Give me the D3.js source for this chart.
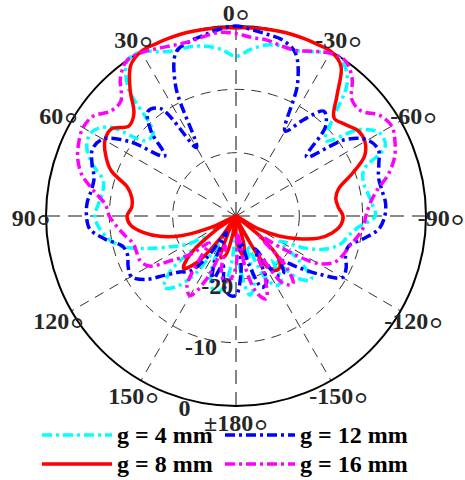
<!DOCTYPE html>
<html><head><meta charset="utf-8">
<script src="https://cdn.jsdelivr.net/npm/d3@7"></script>
<style>html,body{margin:0;padding:0;background:#fff;}svg{display:block;}</style>
</head><body>
<svg id="chart" width="465" height="480"></svg>
<script>
// angles in degrees (positive = counter-clockwise from top), -180..175 step 5
const angles = [-180,-175,-170,-165,-160,-155,-150,-145,-140,-135,-130,-125,-120,-115,-110,-105,-100,-95,-90,-85,-80,-75,-70,-65,-60,-55,-50,-45,-40,-35,-30,-25,-20,-15,-10,-5,0,5,10,15,20,25,30,35,40,45,50,55,60,65,70,75,80,85,90,95,100,105,110,115,120,125,130,135,140,145,150,155,160,165,170,175];

const g4 = [-28,-21,-17.3,-19,-25,-19.5,-17.3,-17.5,-21,-16,-14.4,-18,-22,-18,-14.8,-12.9,-12,-10.5,-8,-8.4,-8.9,-9.2,-8.5,-4,-3.8,-6.2,-11.5,-8.5,-2.7,-0.5,-0.3,-1.4,-2.2,-2.2,-2.6,-3.6,-4.8,-3.6,-2.8,-2.3,-2.2,-1.4,0,-0.1,-3.5,-11.5,-11.5,-5.5,-3.6,-4,-5.8,-8.3,-8.6,-8.2,-7.7,-8.3,-9.5,-11.4,-15,-18.5,-21,-24,-16.5,-14,-15.5,-19,-25,-21,-18.5,-17.5,-18.5,-23];

const g8 = [-27,-25,-23.7,-25,-29,-28,-22,-19.5,-19.3,-20.5,-25,-30,-26,-22.5,-19.5,-16.5,-14.6,-13.4,-13.1,-13.8,-14,-13.2,-10.5,-7.6,-6.5,-6.5,-7.5,-8.1,-5.2,-1.1,0,0,0,0,-0.1,-0.2,-0.3,-0.2,-0.1,0,0,0,0,-1.0,-4.0,-7.2,-7.9,-6.0,-6.1,-7.3,-9.0,-12.2,-13.3,-13.5,-12.8,-13.3,-15.1,-17.6,-21,-26,-30,-26,-20.5,-18.3,-20.5,-26,-30,-27,-23,-23.5,-27,-30];

const g12 = [-17.5,-21,-26,-22,-18,-18.5,-24,-18.5,-18.3,-20,-17.5,-14,-10.6,-10.8,-11.6,-11.6,-9.5,-7.3,-6.5,-6.3,-6.6,-6.7,-6,-5.2,-6,-9,-15.5,-10,-8.4,-11.5,-14.5,-7,-2.6,-1.3,-0.9,-0.5,0,-0.4,-1,-1.5,-2.4,-7.5,-17.5,-9.3,-8.4,-11,-15.3,-9.5,-5.7,-5,-5.8,-6.8,-6.8,-6.4,-6.4,-6.8,-9,-11.5,-11.8,-11.2,-10.9,-12.5,-15.5,-17.5,-18.6,-22,-27,-22,-19,-22,-19,-17.5];

const g16 = [-22,-27,-22,-17.5,-16.1,-19,-23,-17,-16,-19,-25,-21,-15,-12.8,-12,-11.5,-10.6,-9.8,-9.5,-8.8,-7.5,-5.2,-3.4,-2.3,-1.6,-2.3,-4.2,-4.1,-1.5,0,-0.3,-1.3,-2.2,-2.2,-1.8,-1.7,-1.2,-0.9,-1.2,-1.5,-1.3,-0.8,-0.2,0,-1.6,-4.3,-4.2,-2.5,-2.1,-2.6,-3.4,-4.8,-7.2,-9.3,-10,-11.1,-12.2,-13.2,-13.3,-13.3,-14.2,-17.9,-20.5,-24,-21,-16.5,-15.5,-19,-25,-21,-19.5,-20];

const seriesNames = ["g = 4 mm","g = 8 mm","g = 12 mm","g = 16 mm"];
const seriesColors = ["#00FFFF","#FF0000","#0000FF","#FF00FF"];
const seriesDash = ["10,4,3,4",null,"10,4,3,4","10,4,3,4"];
const seriesData = [g4, g8, g12, g16];

const angleTicks = [0,30,60,90,120,150,180,-150,-120,-90,-60,-30];
const angleLabels = ["0","30","60","90","120","150","\u00B1180","-150","-120","-90","-60","-30"];
const radialTicks = [-20,-10,0];
const radialLabels = ["-20","-10","0"];

const svg = d3.select("#chart");
const cx = 236, cy = 216, R = 190;
const r = d3.scaleLinear().domain([-30,0]).range([0,R]).clamp(true);
const toRad = d => -d*Math.PI/180; // d3 angle: clockwise from top
const g = svg.append("g").attr("transform",`translate(${cx},${cy})`);
const font = "'Liberation Serif','Times New Roman',serif";

// grid rings
g.selectAll(".ring").data([-20,-10]).enter().append("circle")
  .attr("r", d=>r(d)).attr("fill","none").attr("stroke","#333").attr("stroke-width",1)
  .attr("stroke-dasharray","10,7");
// spokes
g.selectAll(".spoke").data(angleTicks).enter().append("line")
  .attr("x1",0).attr("y1",0)
  .attr("x2", d=>R*Math.sin(toRad(d))).attr("y2", d=>-R*Math.cos(toRad(d)))
  .attr("stroke", d=> (d%90===0)?"#666":"#333")
  .attr("stroke-width", d=> (d%90===0)?1.6:1)
  .attr("stroke-dasharray", d=> (d%90===0)?"14,8":"10,7");
// outer circle
g.append("circle").attr("r",R).attr("fill","none").attr("stroke","#000").attr("stroke-width",2);

// series
const line = d3.lineRadial().angle((d,i)=>toRad(angles[i])).radius(d=>r(d)).curve(d3.curveCatmullRomClosed.alpha(0.5));
seriesData.forEach((vals,k)=>{
  g.append("path").datum(vals).attr("d",line)
    .attr("fill","none").attr("stroke",seriesColors[k]).attr("stroke-width",3.5)
    .attr("stroke-dasharray",seriesDash[k]).attr("stroke-linejoin","round");
});

// angle labels
angleTicks.forEach((a,i)=>{
  const rr = 205;
  const x = rr*Math.sin(toRad(a)), y = -rr*Math.cos(toRad(a)) + 2;
  const t = g.append("text").attr("x",x).attr("y",y).attr("text-anchor","middle")
    .attr("dominant-baseline","central").attr("font-family",font).attr("font-size",24)
    .attr("font-weight","bold").attr("fill","#262626");
  t.append("tspan").text(angleLabels[i]);
  t.append("tspan").attr("font-weight","normal").attr("font-size",34).attr("dx",1).attr("dy",7).text("\u00B0");
});
// radial labels along 165 deg
radialTicks.forEach((v,i)=>{
  const rr = r(v)+9;
  const x = rr*Math.sin(toRad(165)), y = -rr*Math.cos(toRad(165));
  g.append("text").attr("x",x).attr("y",y).attr("text-anchor","middle")
    .attr("dominant-baseline","central").attr("font-family",font).attr("font-size",24)
    .attr("font-weight","bold").attr("fill","#262626").text(radialLabels[i]);
});

// legend: column-major
const legPos = [[42,435],[42,464],[225,435],[225,464]];
seriesNames.forEach((name,k)=>{
  const [lx,ly] = legPos[k];
  svg.append("line").attr("x1",lx).attr("x2",lx+70).attr("y1",ly).attr("y2",ly)
    .attr("stroke",seriesColors[k]).attr("stroke-width",3.5).attr("stroke-dasharray",seriesDash[k]);
  svg.append("text").attr("x",lx+75).attr("y",ly).attr("dominant-baseline","central")
    .attr("font-family",font).attr("font-size",24).attr("font-weight","bold").attr("fill","#000").text(name);
});
</script>
</body></html>
